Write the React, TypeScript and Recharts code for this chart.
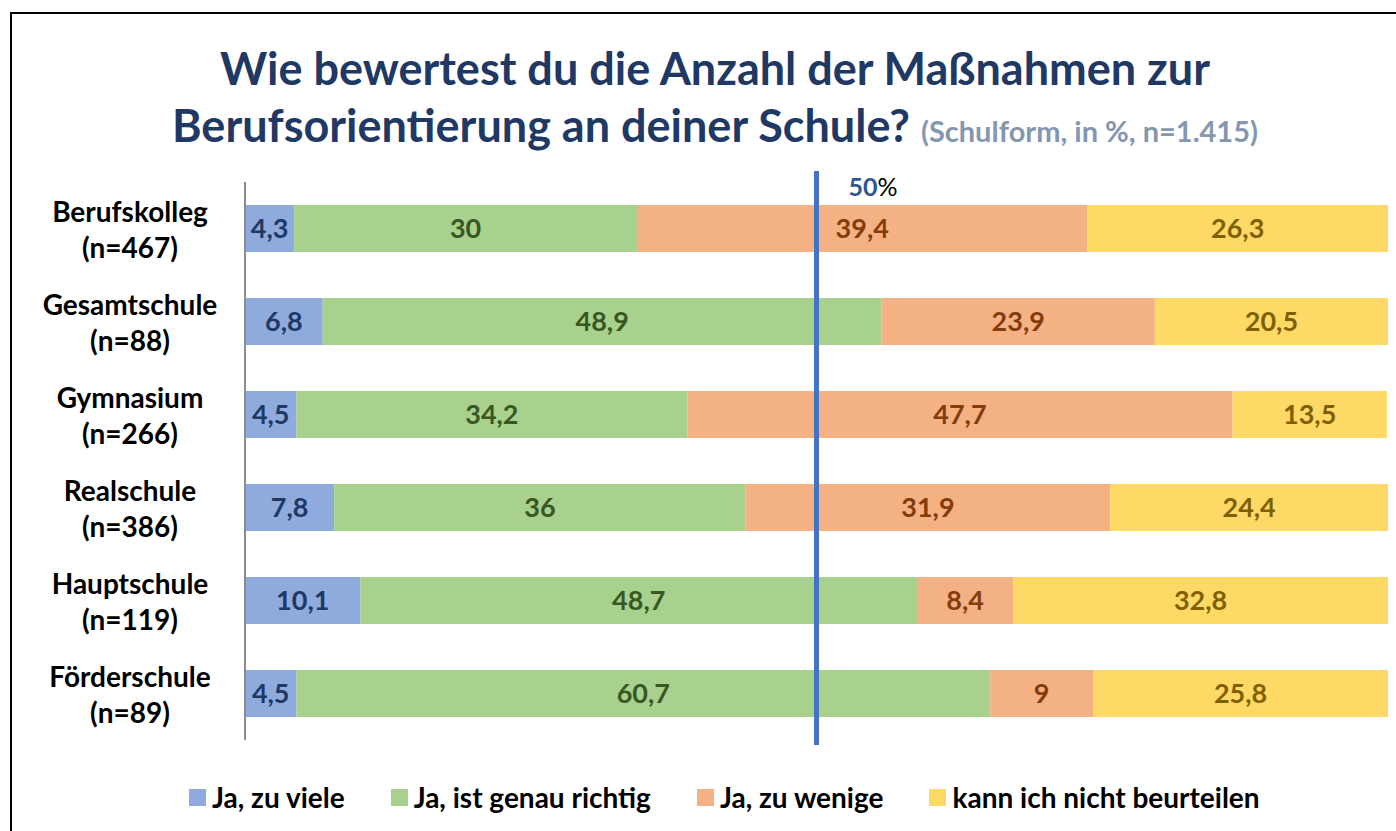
import React from "react";
import { BarChart, Bar, XAxis, YAxis, LabelList, ReferenceLine } from "recharts";

const schools = ["Berufskolleg", "Gesamtschule", "Gymnasium", "Realschule", "Hauptschule", "Förderschule"];
const sampleSizes = ["(n=467)", "(n=88)", "(n=266)", "(n=386)", "(n=119)", "(n=89)"];
const zuViele = [4.3, 6.8, 4.5, 7.8, 10.1, 4.5];
const genauRichtig = [30, 48.9, 34.2, 36, 48.7, 60.7];
const zuWenige = [39.4, 23.9, 47.7, 31.9, 8.4, 9];
const nichtBeurteilen = [26.3, 20.5, 13.5, 24.4, 32.8, 25.8];

const seriesNames = ["Ja, zu viele", "Ja, ist genau richtig", "Ja, zu wenige", "kann ich nicht beurteilen"];
const seriesKeys = ["a", "b", "c", "d"];
const fills = ["#8faadc", "#a9d18e", "#f4b183", "#ffd966"];
const labelColors = ["#203864", "#385723", "#843c0c", "#7f6000"];

const data = schools.map((s, i) => ({
  name: s,
  n: sampleSizes[i],
  a: zuViele[i],
  b: genauRichtig[i],
  c: zuWenige[i],
  d: nichtBeurteilen[i],
}));

const FONT = "Lato, 'Open Sans', sans-serif";

const fmt = (v: any) => String(v).replace(".", ",");

const YTick = (props: any) => {
  const { y, payload, index } = props;
  return (
    <g>
      <text x={130} y={y - 18} textAnchor="middle" dominantBaseline="central" fontFamily={FONT} fontWeight={700} fontSize={28} fill="#000">
        {payload.value}
      </text>
      <text x={130} y={y + 18} textAnchor="middle" dominantBaseline="central" fontFamily={FONT} fontWeight={700} fontSize={28} fill="#000">
        {sampleSizes[index]}
      </text>
    </g>
  );
};

const RefShape = (props: any) => {
  const { x1, y1, x2, y2 } = props;
  const top = Math.min(y1, y2);
  const bottom = Math.max(y1, y2);
  return (
    <g>
      <line x1={x1} x2={x2} y1={top - 11} y2={bottom + 5} stroke="#4472c4" strokeWidth={5} />
      <text x={x1 + 32} y={top + 4} dominantBaseline="central" fontFamily={FONT} fontWeight={700} fontSize={25}>
        <tspan fill="#2f5597">50</tspan>
        <tspan fill="#000" fontWeight={400}>%</tspan>
      </text>
    </g>
  );
};

export default function App() {
  return (
    <div style={{ position: "absolute", left: 0, top: 0, width: 1396, height: 831, background: "#fff", overflow: "hidden" }}>
      <div style={{ position: "absolute", left: 10, top: 12, right: -10, bottom: -10, borderTop: "2px solid #000", borderLeft: "2px solid #000" }} />
      <div style={{ position: "absolute", left: 0, top: 40, width: 1430, textAlign: "center", fontFamily: FONT, fontWeight: 700, fontSize: 45, color: "#1f3864", lineHeight: "56px" }}>
        Wie bewertest du die Anzahl der Maßnahmen zur
      </div>
      <div style={{ position: "absolute", left: 0, top: 97, width: 1430, textAlign: "center", fontFamily: FONT, fontWeight: 700, fontSize: 45, color: "#1f3864", lineHeight: "56px" }}>
        Berufsorientierung an deiner Schule?{" "}
        <span style={{ fontSize: 29, color: "#8497b0" }}>(Schulform, in %, n=1.415)</span>
      </div>
      <div style={{ position: "absolute", left: 0, top: 0 }}>
        <BarChart
          width={1396}
          height={831}
          data={data}
          layout="vertical"
          margin={{ top: 182, bottom: 91, left: 10, right: 8 }}
          barCategoryGap={46}
        >
          <XAxis type="number" domain={[0, 100]} allowDataOverflow hide />
          <YAxis
            type="category"
            dataKey="name"
            width={235}
            tickLine={false}
            axisLine={{ stroke: "#8c8c8c", strokeWidth: 2 }}
            tick={<YTick />}
            interval={0}
          />
          {seriesKeys.map((k, i) => (
            <Bar key={k} dataKey={k} name={seriesNames[i]} stackId="s" fill={fills[i]} barSize={47} isAnimationActive={false}>
              <LabelList
                dataKey={k}
                position="center"
                formatter={fmt}
                fill={labelColors[i]}
                fontFamily={FONT}
                fontWeight={700}
                fontSize={27}
              />
            </Bar>
          ))}
          <ReferenceLine x={50} shape={<RefShape />} ifOverflow="visible" />
        </BarChart>
      </div>
      <div style={{ position: "absolute", top: 780, left: 189, display: "flex", alignItems: "center", fontFamily: FONT, fontWeight: 700, fontSize: 28, color: "#000" }}>
        {seriesNames.map((n, i) => (
          <div key={n} style={{ display: "flex", alignItems: "center", marginRight: i === 3 ? 0 : 46 }}>
            <div style={{ width: 17, height: 17, background: fills[i], marginRight: 6 }} />
            <span>{n}</span>
          </div>
        ))}
      </div>
    </div>
  );
}
